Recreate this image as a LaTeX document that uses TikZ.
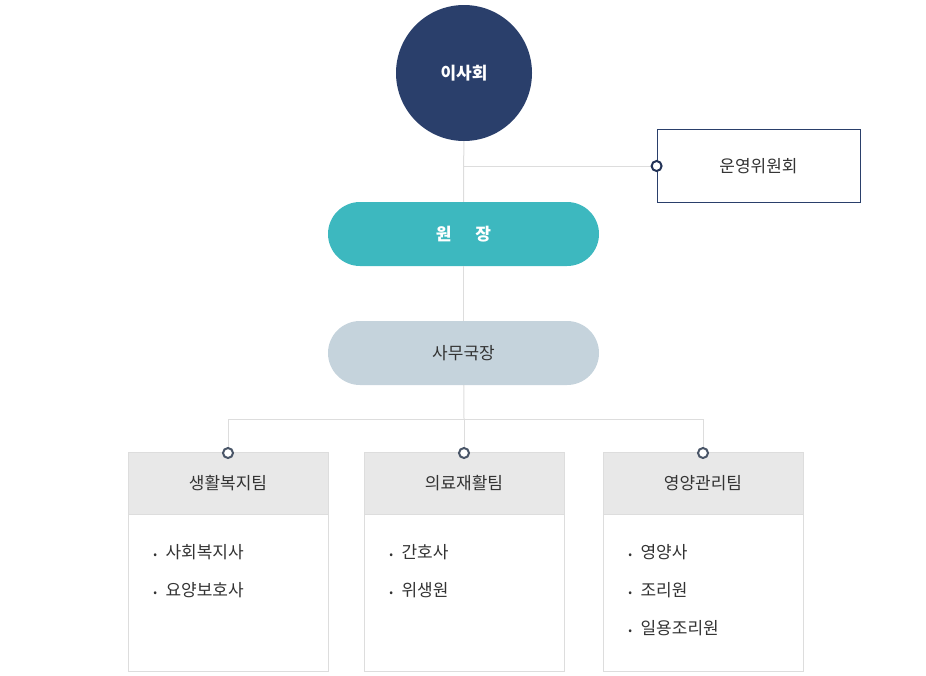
\documentclass[tikz,border=0pt]{standalone}
\usepackage{fontspec}
\setmainfont{Noto Sans CJK KR}
\usetikzlibrary{positioning}
\definecolor{navy}{RGB}{42,63,107}
\definecolor{teal}{RGB}{61,184,191}
\definecolor{paleblue}{RGB}{197,211,220}
\definecolor{linegray}{RGB}{221,221,221}
\definecolor{headgray}{RGB}{232,232,232}
\definecolor{dotgray}{RGB}{74,86,104}
\definecolor{textdark}{RGB}{51,51,51}
\tikzset{
  pill/.style={rounded corners=32pt,minimum width=271pt,minimum height=64pt,inner sep=0pt},
  team/.style={draw=linegray,fill=headgray,minimum width=200pt,minimum height=62pt,inner sep=0pt,text=textdark,font=\fontsize{17}{19}\selectfont},
  teambody/.style={draw=linegray,fill=white,minimum width=200pt,minimum height=157pt,inner sep=0pt},
  knob/.style={circle,draw=dotgray,line width=2pt,fill=white,minimum size=10pt,inner sep=0pt},
  item/.style={anchor=west,text=textdark,font=\fontsize{17}{19}\selectfont},
  wire/.style={draw=linegray,line width=1pt}
}
\begin{document}
\begin{tikzpicture}[x=1pt,y=-1pt]
\useasboundingbox (0,0) rectangle (926,675);

%Board
\node (board) [circle,fill=navy,minimum size=136pt,inner sep=0pt,text=white,font=\bfseries\fontsize{17}{19}\selectfont] at (464,73) {이사회};
%Committee
\node (committee) [draw=navy,line width=0.8pt,minimum width=203pt,minimum height=73pt,inner sep=0pt,text=textdark,font=\fontsize{17}{19}\selectfont] at (758.5,166) {운영위원회};
%Director
\node (director) [pill,fill=teal,text=white,font=\bfseries\fontsize{17}{19}\selectfont] at (463.5,234) {원\hspace{1.4em}장};
%Secretary
\node (secretary) [pill,fill=paleblue,text=textdark,font=\fontsize{17}{19}\selectfont] at (463.5,353) {사무국장};

%Wires
\coordinate (tee) at (464,166);
\coordinate (split) at (464,419);
\draw [wire] (board) -- (director);
\draw [wire] (tee) -- (committee.west);
\draw [wire] (director) -- (secretary);
\draw [wire] (secretary) -- (split);

%Teams
\foreach \n/\x/\t in {welfare/228/생활복지팀, medical/464/의료재활팀, food/703/영양관리팀}{
  \node (\n body) [teambody] at (\x,592.5) {};
  \node (\n) [team] at (\x,483) {\t};
  \coordinate (\n top) at (\x,419);
  \draw [wire] (\n top) -- (\n.north);
  \node (\n knob) [knob] at (\x,453) {};
}
\draw [wire] (welfaretop) -- (foodtop);
\node [knob,draw=navy!80!black] at (committee.west) {};

%Items
\foreach \n/\k/\t in {welfare/0/사회복지사, welfare/1/요양보호사, medical/0/간호사, medical/1/위생원, food/0/영양사, food/1/조리원, food/2/일용조리원}{
  \node [item] at ([xshift=22pt,yshift=-(38*\k+38)]\n body.north west) {{\fontsize{11}{13}\selectfont\textbullet}\hspace{0.5em}\t};
}
\end{tikzpicture}
\end{document}
